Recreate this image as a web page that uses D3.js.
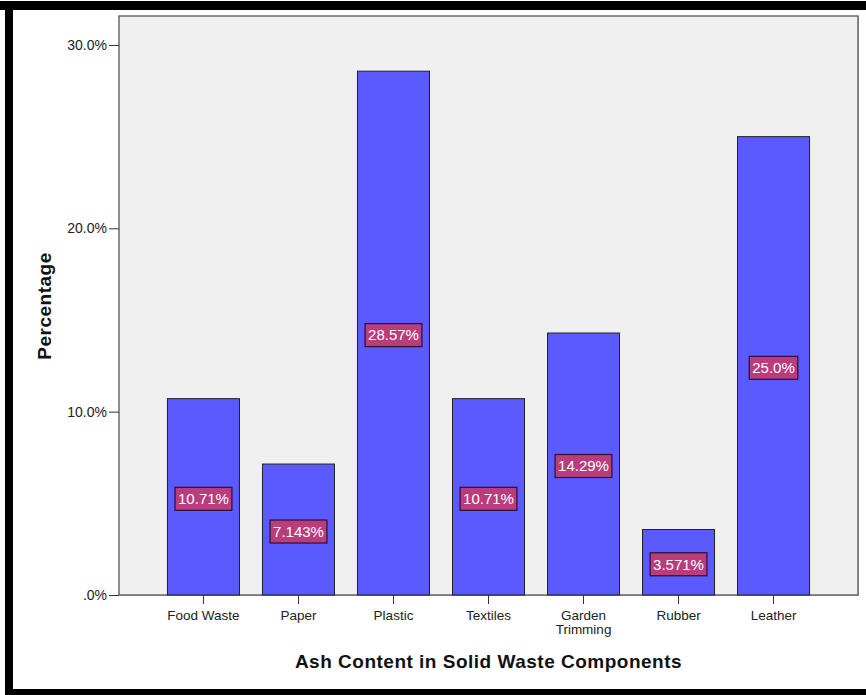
<!DOCTYPE html>
<html><head><meta charset="utf-8">
<script src="https://cdn.jsdelivr.net/npm/d3@7"></script>
<style>
html,body{margin:0;padding:0;background:#fff;}
svg{display:block;font-family:Arial,"Liberation Sans",sans-serif;}
</style></head>
<body>
<svg id="chart" width="866" height="695"></svg>
<script>
const categories = ["Food Waste","Paper","Plastic","Textiles","Garden\nTrimming","Rubber","Leather"];
const values = [10.71, 7.143, 28.57, 10.71, 14.29, 3.571, 25.0];
const valueLabels = ["10.71%","7.143%","28.57%","10.71%","14.29%","3.571%","25.0%"];
const yTicks = [0, 10, 20, 30];
const yTickLabels = [".0%","10.0%","20.0%","30.0%"];

(function(){
const svg = d3.select("#chart");
const pL = 119, pR = 858, pT = 16, pB = 595;
const FF = "Arial,'Liberation Sans',sans-serif";

// outer black frame
svg.append("rect").attr("x",0).attr("y",1).attr("width",866).attr("height",9).attr("fill","#000");
svg.append("rect").attr("x",5).attr("y",1).attr("width",8).attr("height",694).attr("fill","#000");
svg.append("rect").attr("x",5).attr("y",689).attr("width",861).attr("height",6).attr("fill","#000");

const y = d3.scaleLinear().domain([0, 31.58]).range([pB, pT]);
const x = d3.scaleBand().domain(categories).range([pL, pR]).paddingInner(0.242).paddingOuter(0.51);

// plot background
svg.append("rect").attr("x",pL+1).attr("y",pT+1).attr("width",pR-pL).attr("height",pB-pT)
  .attr("fill","#bbb");
svg.append("rect").attr("x",pL).attr("y",pT).attr("width",pR-pL).attr("height",pB-pT)
  .attr("fill","#f0f0f0").attr("stroke","#555").attr("stroke-width",1.3);

// bars
svg.selectAll("rect.bar").data(values).enter().append("rect").attr("class","bar")
  .attr("x",(d,i)=>x(categories[i]))
  .attr("y",d=>y(d))
  .attr("width",x.bandwidth())
  .attr("height",d=>y(0)-y(d))
  .attr("fill","#5a5aff").attr("stroke","#222").attr("stroke-width",1);

// value labels
const lg = svg.selectAll("g.lab").data(values).enter().append("g").attr("class","lab")
  .attr("transform",(d,i)=>`translate(${x(categories[i])+x.bandwidth()/2},${y(d/2)+2})`);
lg.each(function(d,i){
  const g = d3.select(this);
  const t = g.append("text").attr("text-anchor","middle").attr("dy","0.36em")
    .attr("font-size",15).attr("fill","#fff").text(valueLabels[i]);
  const w = t.node().getComputedTextLength();
  g.insert("rect","text").attr("x",-w/2-3).attr("y",-11.5).attr("width",w+6).attr("height",23)
    .attr("fill","#b83d7a").attr("stroke","#2a1030").attr("stroke-width",1.2);
});

// y axis
const yAxis = d3.axisLeft(y).tickValues(yTicks).tickFormat((d,i)=>yTickLabels[i]).tickSize(10).tickPadding(2);
const ya = svg.append("g").attr("transform",`translate(${pL},0)`).call(yAxis);
ya.select(".domain").remove();
ya.selectAll("line").attr("stroke","#333");
ya.selectAll("text").attr("font-size",14).attr("fill","#222").attr("font-family",FF);

// x axis
const xAxis = d3.axisBottom(x).tickSize(9).tickPadding(4).tickFormat("");
const xa = svg.append("g").attr("transform",`translate(0,${pB})`).call(xAxis);
xa.select(".domain").remove();
xa.selectAll("line").attr("stroke","#333");
xa.selectAll(".tick").each(function(d){
  const lines = d.split("\n");
  const t = d3.select(this).append("text").attr("text-anchor","middle").attr("fill","#222")
    .attr("font-size",13.5).attr("y",25).attr("font-family",FF);
  lines.forEach((l,j)=>t.append("tspan").attr("x",0).attr("dy",j===0?0:14).text(l));
});

// axis titles
svg.append("text").attr("x",(pL+pR)/2).attr("y",668).attr("text-anchor","middle")
  .attr("font-size",19).attr("font-weight","bold").attr("fill","#111").attr("letter-spacing",0.5)
  .text("Ash Content in Solid Waste Components");
svg.append("text").attr("transform","translate(51,306) rotate(-90)").attr("text-anchor","middle")
  .attr("font-size",19).attr("font-weight","bold").attr("fill","#111").attr("letter-spacing",0.5)
  .text("Percentage");
})();
</script>
</body></html>
